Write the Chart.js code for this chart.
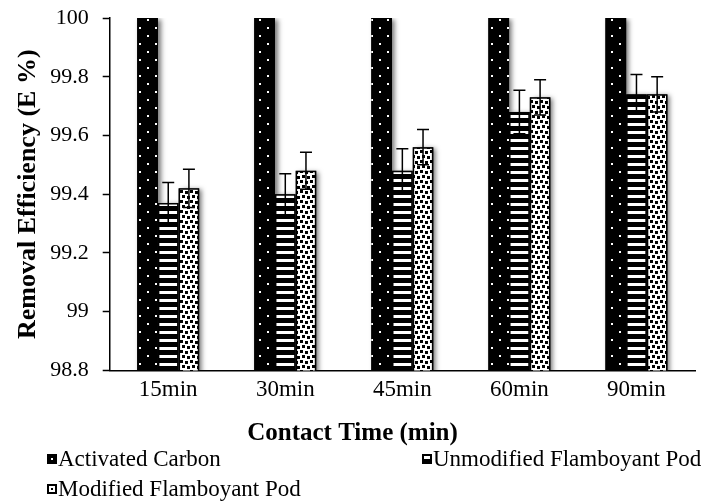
<!DOCTYPE html>
<html><head><meta charset="utf-8">
<script src="https://cdn.jsdelivr.net/npm/chart.js@4.4.1/dist/chart.umd.min.js"></script>
<style>
html,body{margin:0;padding:0;background:#fff;}
#wrap{position:relative;width:705px;height:502px;}
#legend{position:absolute;left:0;top:0;width:705px;height:502px;pointer-events:none;font-family:"Liberation Serif","Times New Roman",serif;font-size:23px;color:#000;}
.item{position:absolute;display:flex;align-items:center;white-space:nowrap;line-height:24px;height:24px;}
.sw{width:10px;height:10px;margin-right:1px;box-sizing:border-box;position:relative;}
.sw.ac{background:#000;}
.sw.ac::after{content:"";position:absolute;left:4px;top:4px;width:2px;height:2px;background:#fff;}
.sw.um{background:#000;}
.sw.um::after{content:"";position:absolute;left:2px;top:2px;width:6px;height:3px;background:#fff;}
.sw.md{border:2px solid #000;background:#fff;}
.sw.md::after{content:"";position:absolute;left:2px;top:2px;width:2px;height:2px;background:#000;}
</style></head>
<body><div id="wrap"><canvas id="c"></canvas><div id="legend"></div></div>
<script>
const categories = ['15min','30min','45min','60min','90min'];
const seriesNames = ['Activated Carbon','Unmodified Flamboyant Pod','Modified Flamboyant Pod'];
const activatedCarbon = [100,100,100,100,100];
const unmodifiedPod = [99.37,99.40,99.48,99.68,99.74];
const modifiedPod = [99.42,99.48,99.56,99.73,99.74];
const activatedCarbonErr = [0,0,0,0,0];
const unmodifiedPodErr = [0.07,0.07,0.075,0.074,0.068];
const modifiedPodErr = [0.065,0.063,0.06,0.06,0.06];
const yTicks = [98.8,99,99.2,99.4,99.6,99.8,100];
const yTickLabels = ['98.8','99','99.2','99.4','99.6','99.8','100'];
const xTitle = 'Contact Time (min)';
const yTitle = 'Removal Efficiency (E %)';

const FONT = '"Liberation Serif","Times New Roman",serif';

function makePattern(kind){
  const c=document.createElement('canvas');
  const g=c.getContext('2d');
  if(kind==='dots'){
    c.width=16;c.height=16;
    g.fillStyle='#000';g.fillRect(0,0,16,16);
    g.fillStyle='#fff';g.fillRect(3,3,2,2);g.fillRect(11,11,2,2);
  } else if(kind==='hstripes'){
    c.width=8;c.height=8;
    g.fillStyle='#000';g.fillRect(0,0,8,8);
    g.fillStyle='#fff';g.fillRect(0,3,8,3);
  } else {
    c.width=10;c.height=10;
    g.fillStyle='#fff';g.fillRect(0,0,10,10);
    g.fillStyle='#000';
    g.fillRect(0,0,3,3);g.fillRect(5,1,3,3);g.fillRect(2,5,3,3);g.fillRect(7,6,3,3);
  }
  return g.createPattern(c,'repeat');
}

const errs=[activatedCarbonErr,unmodifiedPodErr,modifiedPodErr];

const shadowPlugin={
  id:'shadow',
  beforeDatasetsDraw(chart){
    const ctx=chart.ctx, a=chart.chartArea;ctx.save();
    ctx.beginPath();ctx.rect(a.left,a.top,a.right-a.left+10,a.bottom-a.top);ctx.clip();
    ctx.shadowColor='rgba(0,0,0,0.55)';ctx.shadowBlur=5;ctx.shadowOffsetX=3;ctx.shadowOffsetY=1;
    ctx.fillStyle='#000';
    chart.data.datasets.forEach((ds,i)=>{
      chart.getDatasetMeta(i).data.forEach(b=>{
        const p=b.getProps(['x','y','base','width'],true);
        const bot=Math.min(p.base,a.bottom+20);
        ctx.fillRect(p.x-p.width/2,p.y,p.width,bot-p.y);
      });
    });
    ctx.restore();
  }
};
const errorPlugin={
  id:'errbars',
  afterDatasetsDraw(chart){
    const ctx=chart.ctx, ys=chart.scales.y, a=chart.chartArea;
    ctx.save();
    ctx.beginPath();ctx.rect(a.left,a.top,a.right-a.left,a.bottom-a.top);ctx.clip();
    ctx.strokeStyle='#000';ctx.lineWidth=1.5;
    chart.data.datasets.forEach((ds,i)=>{
      chart.getDatasetMeta(i).data.forEach((b,j)=>{
        const e=errs[i][j]; if(!e) return;
        const v=ds.data[j];
        const x=b.getProps(['x'],true).x;
        const t=ys.getPixelForValue(v+e), bo=ys.getPixelForValue(v-e);
        ctx.beginPath();
        ctx.moveTo(x,t);ctx.lineTo(x,bo);
        ctx.moveTo(x-6,t);ctx.lineTo(x+6,t);
        ctx.moveTo(x-6,bo);ctx.lineTo(x+6,bo);
        ctx.stroke();
      });
    });
    ctx.restore();
  }
};

const chart=new Chart(document.getElementById('c'),{
  type:'bar',
  data:{
    labels:categories,
    datasets:[
      {label:seriesNames[0],data:activatedCarbon,backgroundColor:makePattern('dots'),borderWidth:0},
      {label:seriesNames[1],data:unmodifiedPod,backgroundColor:makePattern('hstripes'),borderColor:'#000',borderWidth:1.5},
      {label:seriesNames[2],data:modifiedPod,backgroundColor:makePattern('checks'),borderColor:'#000',borderWidth:1.5}
    ]
  },
  options:{
    responsive:true,maintainAspectRatio:false,animation:false,
    devicePixelRatio:1,
    layout:{padding:{left:10,right:10,top:18,bottom:53}},
    datasets:{bar:{categoryPercentage:0.53,barPercentage:1.0}},
    plugins:{
      legend:{display:false},
      tooltip:{enabled:false},
      title:{display:true,position:'bottom',text:xTitle,color:'#000',
        font:{family:FONT,size:25,weight:'bold'},padding:{top:9,bottom:0}}
    },
    scales:{
      x:{
        grid:{display:true,drawOnChartArea:false,drawTicks:false},
        border:{display:true,color:'#000',width:1.5},
        ticks:{color:'#000',font:{family:FONT,size:23},padding:6}
      },
      y:{
        min:98.8,max:100,
        afterBuildTicks(s){s.ticks=yTicks.map(v=>({value:v}));},
        grid:{display:true,drawOnChartArea:false,drawTicks:true,tickLength:7,tickColor:'#000',tickWidth:1.5},
        border:{display:true,color:'#000',width:1.5},
        ticks:{color:'#000',font:{family:FONT,size:22,lineHeight:0.3},padding:14,
          callback:(v,i)=>yTickLabels[yTicks.indexOf(Math.round(v*10)/10)]},
        title:{display:true,text:yTitle,color:'#000',font:{family:FONT,size:26,weight:'bold'},padding:{top:3,bottom:-8}}
      }
    }
  },
  plugins:[shadowPlugin,errorPlugin]
});

const legendDiv=document.getElementById('legend');
const legendPos=[{x:47,y:447,cls:'ac'},{x:422,y:447,cls:'um'},{x:47,y:477,cls:'md'}];
seriesNames.forEach((n,i)=>{
  const d=document.createElement('div');d.className='item';
  d.style.left=legendPos[i].x+'px';d.style.top=legendPos[i].y+'px';
  const s=document.createElement('span');s.className='sw '+legendPos[i].cls;
  const t=document.createElement('span');t.textContent=n;
  d.appendChild(s);d.appendChild(t);legendDiv.appendChild(d);
});
</script>
</body></html>
